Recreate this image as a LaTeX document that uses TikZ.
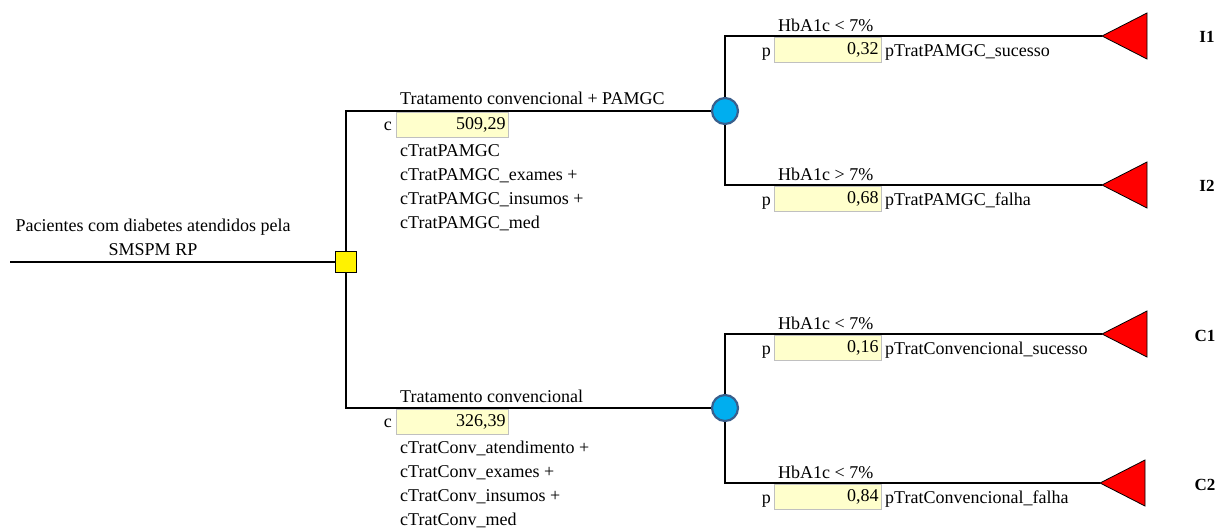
\documentclass[tikz,border=0pt]{standalone}
\usepackage{fontspec}
\setmainfont{Liberation Serif}
\definecolor{chancefill}{RGB}{0,174,239}
\definecolor{chanceborder}{RGB}{58,95,140}
\definecolor{boxfill}{RGB}{255,255,204}
\definecolor{boxborder}{RGB}{192,192,192}
\begin{document}
\begin{tikzpicture}[x=1pt,y=-1pt,
  every node/.style={font=\fontsize{18}{24}\selectfont, inner sep=0pt},
  edge/.style={line width=1.6pt},
  lbl/.style={anchor=base west},
  tag/.style={anchor=base east},
  valbox/.style={draw=boxborder, line width=1.2pt, fill=boxfill, anchor=north west,
    minimum height=25, text width=#1, align=right, inner xsep=3pt},
  costlist/.style={anchor=north west, align=left},
  decision/.style={rectangle, draw, line width=1pt, fill=yellow, minimum size=21},
  chance/.style={circle, draw=chanceborder, line width=2.2pt, fill=chancefill, minimum size=26},
  terminal/.style={draw, line width=0.8pt, fill=red},
  outcome/.style={font=\fontsize{17}{20}\selectfont\bfseries}
]
\useasboundingbox (0,0) rectangle (1220,528);

% ---- tree nodes ----
\coordinate (start) at (10,262);
\node[decision] (dec) at (346,262) {};
\node[chance] (ch1) at (725,111) {};
\node[chance] (ch2) at (725,408) {};
\coordinate (t1) at (1102,36);
\coordinate (t2) at (1102,185);
\coordinate (t3) at (1102,334);
\coordinate (t4) at (1100,483);

% ---- terminal triangles ----
\foreach \t in {t1,t2,t3,t4}
  \draw[terminal] (\t) -- ++(45,-23) -- ++(0,46) -- cycle;

% ---- connectors ----
\draw[edge] (start) -- (dec.west);
\draw[edge] (dec.north) |- (ch1.west);
\draw[edge] (dec.south) |- (ch2.west);
\draw[edge] (ch1.north) |- (t1);
\draw[edge] (ch1.south) |- (t2);
\draw[edge] (ch2.north) |- (t3);
\draw[edge] (ch2.south) |- (t4);

% ---- root label ----
\node[anchor=base] (root1) at (153,231) {Pacientes com diabetes atendidos pela};
\node[anchor=base] (root2) at (153,255) {SMSPM RP};

% ---- strategy: conventional + PAMGC ----
\node[lbl] (s1) at (400,104) {Tratamento convencional + PAMGC};
\node[tag] (c1) at (392,130) {c};
\node[valbox=106pt] (v1) at (396,112) {509,29};
\node[costlist] (f1) at (400,144) {cTratPAMGC\\cTratPAMGC\_exames +\\cTratPAMGC\_insumos +\\cTratPAMGC\_med};

% ---- strategy: conventional ----
\node[lbl] (s2) at (400,402) {Tratamento convencional};
\node[tag] (c2) at (392,427) {c};
\node[valbox=106pt] (v2) at (396,409) {326,39};
\node[costlist] (f2) at (400,441) {cTratConv\_atendimento +\\cTratConv\_exames +\\cTratConv\_insumos +\\cTratConv\_med};

% ---- chance branches ----
\node[lbl] (h1) at (778,31) {HbA1c < 7\%};
\node[tag] (p1) at (771,56) {p};
\node[valbox=101pt] (q1) at (774,37) {0,32};
\node[lbl] (n1) at (885,56) {pTratPAMGC\_sucesso};

\node[lbl] (h2) at (778,180) {HbA1c > 7\%};
\node[tag] (p2) at (771,205) {p};
\node[valbox=101pt] (q2) at (774,186) {0,68};
\node[lbl] (n2) at (885,205) {pTratPAMGC\_falha};

\node[lbl] (h3) at (778,329) {HbA1c < 7\%};
\node[tag] (p3) at (771,354) {p};
\node[valbox=101pt] (q3) at (774,335) {0,16};
\node[lbl] (n3) at (885,354) {pTratConvencional\_sucesso};

\node[lbl] (h4) at (778,478) {HbA1c < 7\%};
\node[tag] (p4) at (771,503) {p};
\node[valbox=101pt] (q4) at (774,484) {0,84};
\node[lbl] (n4) at (885,503) {pTratConvencional\_falha};

% ---- outcome names ----
\node[outcome] (o1) at (1207,37) {I1};
\node[outcome] (o2) at (1207,186) {I2};
\node[outcome] (o3) at (1205,336) {C1};
\node[outcome] (o4) at (1205,485) {C2};
\end{tikzpicture}
\end{document}
